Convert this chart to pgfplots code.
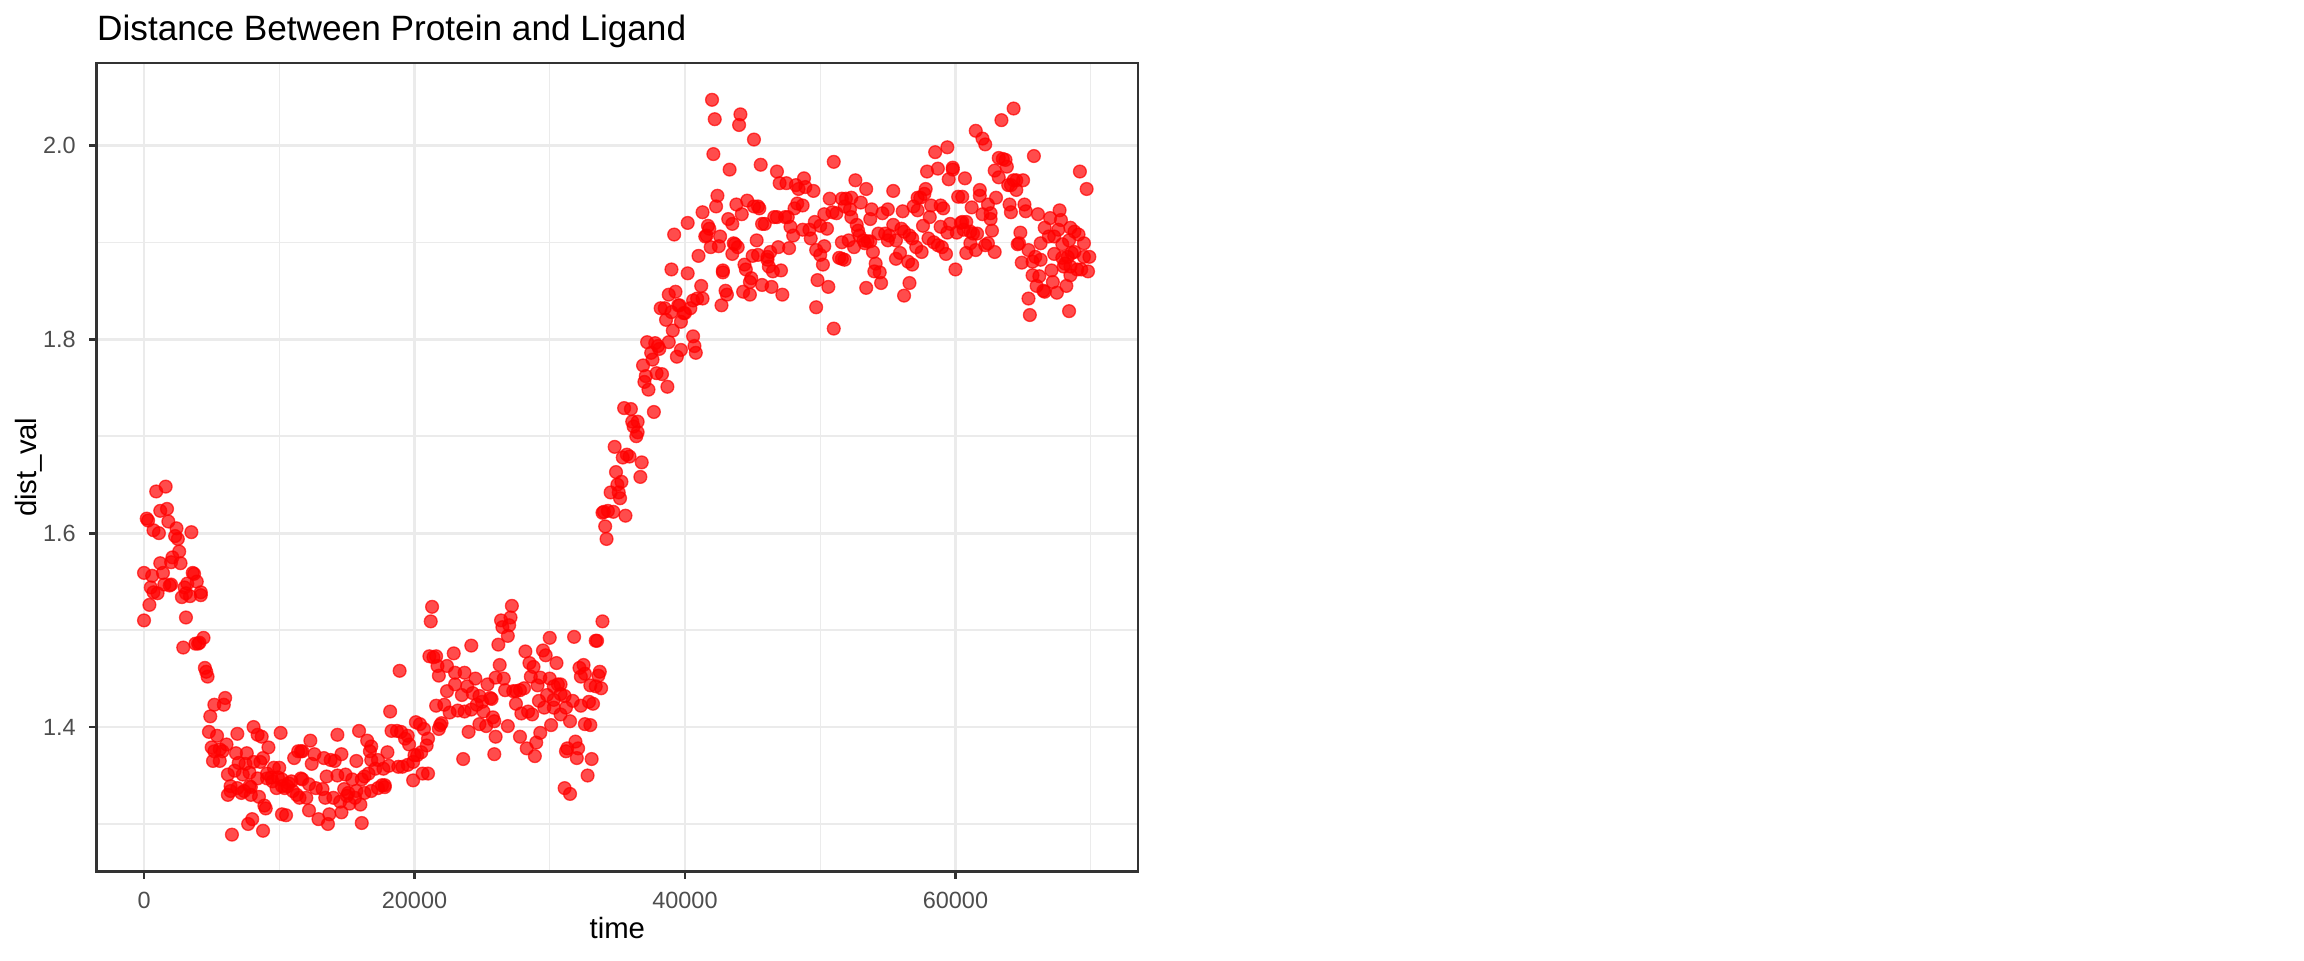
\documentclass[border=0pt]{standalone}
\usepackage{fontspec}
\setmainfont{Liberation Sans}
\usepackage{pgfplots}
\pgfplotsset{compat=1.18}
\definecolor{grey20}{HTML}{333333}
\definecolor{grey30}{HTML}{4D4D4D}
\definecolor{grey92}{HTML}{EBEBEB}
\begin{document}
\begin{tikzpicture}
\path[use as bounding box] (0,0) rectangle (864pt,360pt);
\begin{axis}[
  at={(36.26pt,33.2pt)}, anchor=south west,
  scale only axis, width=390.5pt, height=303.2pt,
  xmin=-3500, xmax=73500, ymin=1.251, ymax=2.085,
  xtick={0,20000,40000,60000}, xticklabels={0,20000,40000,60000},
  minor xtick={10000,30000,50000,70000},
  ytick={1.4,1.6,1.8,2.0}, yticklabels={1.4,1.6,1.8,2.0},
  minor ytick={1.3,1.5,1.7,1.9},
  scaled x ticks=false, scaled y ticks=false,
  grid=both,
  major grid style={draw=grey92, line width=1.07pt},
  minor grid style={draw=grey92, line width=0.53pt},
  axis line style={draw=grey20, line width=1.07pt},
  major tick style={draw=grey20, line width=1.07pt},
  major tick length=2.75pt, minor tick length=0pt,
  tick align=outside, xtick pos=left, ytick pos=left,
  tick label style={font=\fontsize{8.8}{10}\selectfont, text=grey30, inner sep=0pt},
  xticklabel style={anchor=north, yshift=-4.95pt},
  yticklabel style={anchor=east, xshift=-4.95pt},
  /pgf/number format/assume math mode=true,
]
\addplot[only marks, mark=*, mark size=2.4pt, mark options={draw=red, fill=red, fill opacity=0.7, draw opacity=0.7, line width=0.5pt}] coordinates {
(0,1.510)(0,1.559)(200,1.615)(300,1.613)(400,1.526)(500,1.544)(600,1.556)(700,1.539)(700,1.603)(900,1.643)
(1000,1.538)(1100,1.600)(1200,1.623)(1200,1.569)(1400,1.559)(1500,1.547)(1600,1.648)(1700,1.625)(1800,1.612)(1900,1.546)
(2000,1.547)(2000,1.570)(2100,1.575)(2300,1.597)(2400,1.605)(2500,1.594)(2600,1.581)(2700,1.569)(2800,1.534)(2900,1.482)
(3000,1.544)(3100,1.538)(3100,1.513)(3200,1.548)(3400,1.535)(3500,1.601)(3600,1.559)(3700,1.558)(3800,1.486)(3900,1.550)
(4000,1.486)(4100,1.487)(4200,1.536)(4200,1.539)(4400,1.492)(4500,1.461)(4600,1.457)(4700,1.452)(4800,1.395)(4900,1.411)
(5000,1.379)(5100,1.365)(5200,1.375)(5200,1.423)(5400,1.391)(5600,1.377)(5600,1.365)(5800,1.375)(5900,1.423)(6000,1.430)
(6100,1.382)(6200,1.351)(6200,1.330)(6400,1.339)(6400,1.334)(6500,1.289)(6700,1.355)(6800,1.373)(6900,1.393)(6900,1.337)
(7000,1.363)(7200,1.332)(7300,1.351)(7400,1.334)(7500,1.362)(7600,1.373)(7700,1.300)(7800,1.353)(7800,1.339)(7900,1.338)
(7900,1.330)(8000,1.305)(8100,1.364)(8100,1.400)(8400,1.392)(8400,1.347)(8500,1.328)(8600,1.364)(8700,1.390)(8800,1.293)
(8800,1.368)(8900,1.319)(9000,1.316)(9100,1.347)(9100,1.352)(9200,1.379)(9400,1.348)(9500,1.344)(9600,1.358)(9800,1.337)
(9900,1.348)(10000,1.358)(10100,1.394)(10200,1.346)(10200,1.339)(10200,1.310)(10400,1.337)(10500,1.309)(10600,1.339)(10700,1.342)
(10900,1.344)(11000,1.334)(11100,1.368)(11300,1.330)(11400,1.375)(11500,1.327)(11600,1.375)(11600,1.347)
(11700,1.375)(11700,1.346)(12000,1.327)(12200,1.341)(12200,1.314)(12300,1.386)(12400,1.362)(12600,1.372)(12700,1.337)(12900,1.305)
(13200,1.336)(13300,1.368)(13400,1.327)(13500,1.349)(13600,1.300)(13700,1.310)(13800,1.366)(14000,1.327)(14100,1.365)(14300,1.392)
(14300,1.350)(14500,1.323)(14600,1.372)(14600,1.312)(14800,1.336)(14900,1.351)(15000,1.329)(15100,1.332)(15200,1.321)(15400,1.346)
(15600,1.327)(15700,1.365)(15700,1.334)(15900,1.396)(16000,1.320)(16100,1.346)(16100,1.301)(16300,1.332)(16300,1.349)(16500,1.386)
(16600,1.352)(16700,1.375)(16800,1.380)(16800,1.366)(16800,1.334)(17100,1.357)(17300,1.366)(17300,1.337)(17600,1.340)(17700,1.357)
(17800,1.340)(17800,1.338)(18000,1.374)(18100,1.360)(18200,1.416)(18300,1.396)(18700,1.396)(18800,1.359)(18900,1.458)(19000,1.395)
(19100,1.359)(19300,1.388)(19500,1.391)(19500,1.361)(19600,1.382)(19900,1.364)(19900,1.345)(20000,1.371)(20100,1.405)(20200,1.371)
(20400,1.403)(20500,1.374)(20600,1.352)(20700,1.398)(20900,1.381)(21000,1.388)(21000,1.352)(21100,1.473)(21200,1.509)(21300,1.524)
(21400,1.472)(21600,1.473)(21600,1.422)(21700,1.463)(21800,1.453)(21800,1.398)(21900,1.402)(22000,1.404)(22200,1.423)(22400,1.463)
(22400,1.437)(22600,1.415)(22900,1.476)(23000,1.456)(23000,1.444)(23200,1.417)
(23500,1.433)(23600,1.367)(23700,1.456)(23700,1.416)(23900,1.442)(24000,1.395)(24200,1.484)(24200,1.418)(24300,1.435)(24500,1.450)
(24600,1.423)(24800,1.432)(24800,1.403)(25000,1.426)(25100,1.416)(25300,1.401)(25400,1.444)(25600,1.430)(25700,1.429)(25800,1.410)
(25900,1.406)(25900,1.372)(26000,1.451)(26000,1.390)(26200,1.485)(26300,1.464)(26400,1.510)(26500,1.503)(26600,1.450)(26700,1.438)
(26900,1.494)(26900,1.401)(27000,1.505)(27100,1.513)(27200,1.525)(27300,1.437)(27500,1.437)(27500,1.424)(27800,1.438)(27800,1.390)
(27900,1.414)(28100,1.440)(28200,1.478)(28300,1.378)(28400,1.416)(28500,1.466)(28600,1.452)(28700,1.413)(28800,1.462)(28900,1.370)
(29000,1.384)(29100,1.443)(29200,1.427)(29300,1.394)(29300,1.451)(29500,1.479)(29600,1.420)(29700,1.474)(29800,1.433)(30000,1.492)
(30000,1.450)(30100,1.402)(30300,1.442)(30300,1.428)(30300,1.420)(30500,1.466)(30600,1.444)(30800,1.444)(30800,1.434)(30800,1.413)
(31100,1.432)(31100,1.337)(31200,1.420)(31200,1.375)(31300,1.378)(31500,1.406)(31500,1.331)(31700,1.427)(31800,1.493)(31900,1.385)
(32000,1.368)(32100,1.378)(32200,1.461)(32300,1.422)(32300,1.452)(32500,1.464)(32600,1.455)(32600,1.403)(32800,1.350)(32900,1.426)
(33000,1.443)(33000,1.402)(33100,1.367)(33200,1.424)(33400,1.442)(33400,1.489)(33500,1.489)(33600,1.453)(33700,1.457)(33800,1.440)
(33900,1.509)
(33900,1.621)(34000,1.622)(34100,1.607)(34200,1.594)(34300,1.623)(34500,1.642)(34700,1.622)(34800,1.689)(34900,1.663)(35000,1.650)
(35100,1.642)(35200,1.636)(35300,1.653)(35400,1.678)(35500,1.729)(35600,1.618)(35700,1.681)(35900,1.679)(36000,1.728)(36100,1.715)
(36200,1.710)(36400,1.700)(36500,1.715)(36500,1.704)(36700,1.658)(36800,1.673)(36900,1.773)(37000,1.756)(37100,1.762)(37200,1.797)
(37300,1.748)(37500,1.786)(37600,1.779)(37700,1.725)(37800,1.796)(37900,1.765)(38000,1.793)(38100,1.790)(38200,1.832)(38300,1.764)
(38500,1.832)(38600,1.820)(38700,1.751)(38800,1.797)(38800,1.846)(39000,1.872)(39000,1.828)(39100,1.809)(39200,1.908)(39300,1.849)
(39400,1.782)(39500,1.835)(39600,1.835)(39700,1.818)(39700,1.789)(39900,1.827)
(40000,1.827)(40200,1.920)(40200,1.868)(40400,1.832)(40600,1.840)(40600,1.803)(40700,1.793)(40800,1.786)(40900,1.842)(41000,1.886)
(41200,1.855)(41300,1.931)(41300,1.842)(41500,1.906)(41600,1.907)(41700,1.917)(41800,1.914)(41900,1.895)(42000,2.047)(42100,1.991)
(42200,2.027)(42300,1.937)(42400,1.948)(42500,1.896)(42600,1.906)(42700,1.835)(42800,1.871)(42800,1.869)(43000,1.850)(43100,1.846)
(43200,1.924)(43300,1.975)(43500,1.919)(43500,1.888)(43600,1.899)(43700,1.898)(43800,1.939)(43900,1.895)(44000,2.021)(44100,2.032)
(44200,1.929)(44300,1.849)(44400,1.877)(44500,1.872)(44600,1.943)(44800,1.859)(44800,1.846)(44900,1.863)(45000,1.886)(45100,2.006)
(45100,1.937)(45300,1.902)(45400,1.937)(45400,1.887)(45500,1.935)(45600,1.980)(45700,1.919)(45700,1.856)(45900,1.919)(46100,1.885)
(46100,1.882)(46200,1.875)(46300,1.890)(46400,1.854)(46500,1.870)(46600,1.926)(46800,1.973)(46800,1.926)(46900,1.895)(47000,1.961)
(47100,1.871)(47200,1.846)(47400,1.926)(47500,1.961)(47600,1.926)(47700,1.894)(47800,1.916)(48000,1.907)(48100,1.935)(48200,1.959)
(48300,1.940)(48400,1.955)(48700,1.913)(48700,1.938)(48800,1.966)(48900,1.957)(49200,1.913)(49300,1.904)(49500,1.953)(49600,1.921)
(49700,1.892)(49700,1.833)(49800,1.861)(50000,1.917)(50000,1.887)(50200,1.877)(50300,1.929)(50300,1.896)(50500,1.914)(50600,1.854)
(50700,1.945)(50900,1.931)(51000,1.983)(51000,1.811)(51200,1.930)(51400,1.884)
(51600,1.945)(51600,1.900)(51600,1.883)(51800,1.937)(51800,1.882)(51900,1.945)(52100,1.902)(52200,1.934)(52300,1.946)(52300,1.926)
(52500,1.895)(52600,1.964)(52700,1.918)(52800,1.912)(52900,1.907)(53000,1.941)(53200,1.902)(53300,1.899)(53400,1.955)(53400,1.853)
(53500,1.901)(53700,1.924)(53700,1.901)(53800,1.934)(53900,1.890)(54000,1.870)(54100,1.878)(54300,1.909)(54400,1.869)(54500,1.858)
(54600,1.930)(54800,1.909)(55000,1.934)(55000,1.902)(55100,1.907)(55400,1.953)(55400,1.918)(55600,1.902)(55600,1.883)(55900,1.889)
(56000,1.914)(56100,1.932)(56200,1.911)(56200,1.845)(56500,1.880)(56600,1.907)(56600,1.858)(56800,1.904)(56800,1.877)(56900,1.937)
(57100,1.895)(57200,1.946)(57200,1.933)(57400,1.946)(57500,1.890)(57600,1.917)(57700,1.950)(57800,1.955)(57900,1.973)(58000,1.904)
(58100,1.926)(58200,1.938)(58400,1.900)(58500,1.993)(58700,1.976)(58700,1.897)(58900,1.938)(58900,1.916)(59000,1.895)(59100,1.935)
(59300,1.888)(59400,1.910)(59400,1.998)(59500,1.965)(59600,1.919)(59800,1.975)(59800,1.977)(60000,1.872)(60100,1.910)(60200,1.947)
(60400,1.920)
(60500,1.947)(60500,1.921)(60600,1.913)(60700,1.966)(60800,1.921)(60800,1.889)(61100,1.911)(61100,1.899)(61200,1.936)(61300,1.909)
(61500,2.015)(61500,1.892)(61600,1.909)(61800,1.948)(61800,1.954)(62000,2.007)(62000,1.929)(62200,2.001)(62200,1.897)(62400,1.939)
(62400,1.899)(62600,1.930)(62600,1.924)(62700,1.912)(62900,1.974)(62900,1.890)(63000,1.946)(63200,1.987)(63200,1.967)(63400,2.026)
(63500,1.986)(63700,1.985)(63800,1.978)(63900,1.959)(64000,1.939)(64100,1.959)(64100,1.931)(64300,1.964)(64300,2.038)(64500,1.964)
(64500,1.954)(64600,1.898)(64700,1.899)(64800,1.910)(64900,1.879)(65000,1.964)(65100,1.939)(65200,1.932)(65400,1.892)(65400,1.842)
(65500,1.825)(65700,1.880)(65700,1.866)(65800,1.989)(65900,1.885)(66000,1.855)(66100,1.929)(66200,1.865)(66300,1.882)(66300,1.899)
(66500,1.850)(66600,1.915)(66600,1.849)(66900,1.906)(67000,1.925)(67100,1.871)(67200,1.859)(67300,1.906)(67300,1.888)(67500,1.848)
(67600,1.913)(67700,1.933)(67800,1.923)(67900,1.898)(67900,1.884)(68000,1.875)(68100,1.878)(68200,1.855)(68300,1.885)(68400,1.902)
(68400,1.829)(68500,1.875)(68500,1.866)(68500,1.915)(68600,1.889)(68800,1.890)(68800,1.911)(69000,1.872)(69100,1.908)(69200,1.973)
(69300,1.872)(69500,1.899)(69500,1.885)(69700,1.955)(69800,1.870)(69900,1.885)
};
\end{axis}
\node[anchor=base west, font=\fontsize{13.2}{16}\selectfont, inner sep=0pt] at (36.26pt,345pt) {Distance Between Protein and Ligand};
\node[anchor=base, font=\fontsize{11}{13}\selectfont, inner sep=0pt] at (231.5pt,8.2pt) {time};
\node[anchor=base, rotate=90, font=\fontsize{11}{13}\selectfont, inner sep=0pt] at (13.8pt,184.8pt) {dist\_val};
\end{tikzpicture}
\end{document}
